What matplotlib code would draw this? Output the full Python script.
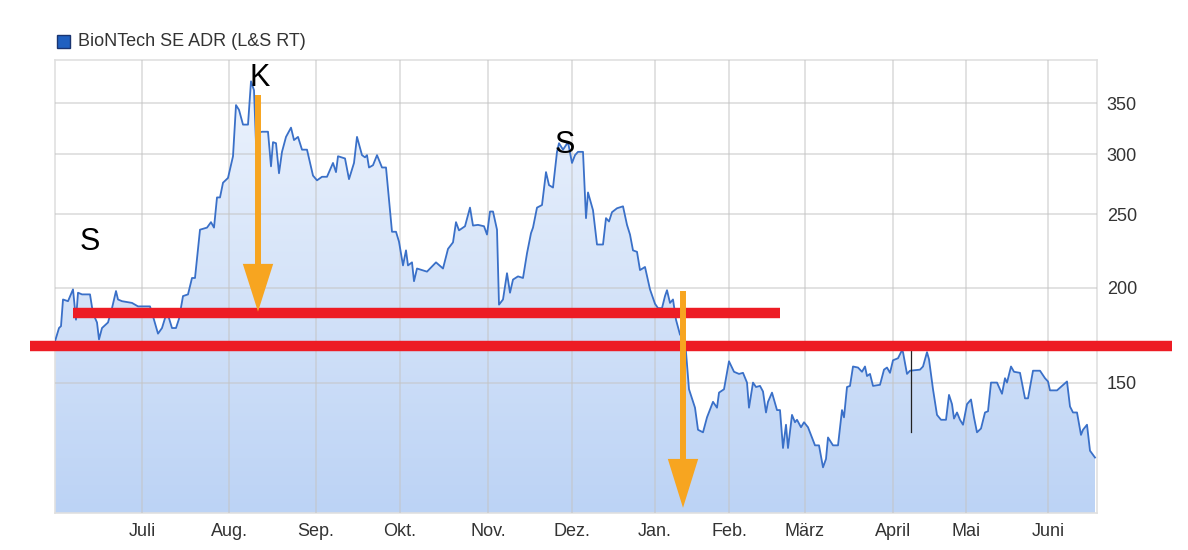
import matplotlib
matplotlib.use("Agg")
import numpy as np
import matplotlib.pyplot as plt
from matplotlib.ticker import FixedLocator, NullLocator, FixedFormatter
from matplotlib.colors import LinearSegmentedColormap

plt.rcParams["font.family"] = ["Liberation Sans", "DejaVu Sans"]

# ── data (x = trading day since start of June 2021, price in USD) ─────
days = [
    0, 1, 1.5, 2, 3.25, 4.5, 5.25, 5.75, 6.75, 8.75, 9.5, 10.5, 11, 11.75, 13.25,
    14.25, 15.25, 15.75, 16.75, 19.25, 20.75, 23.75, 24.75, 25.75, 26.75, 28,
    29.25, 30.25, 31, 32, 33.25, 34.25, 35, 36.25, 38, 39, 39.75, 40.5, 41.25,
    42, 43.25, 44.5, 45.25, 46, 47, 48.25, 49, 49.75, 50.25, 50.75, 51.75, 53.25,
    54, 54.5, 55.25, 56, 56.75, 57.75, 59, 59.75, 60.75, 61.75, 63, 64.5, 65.5,
    66.75, 68, 69.5, 70.25, 70.75, 72.5, 73.5, 74.75, 75.5, 76.75, 77.5, 78,
    78.5, 79.5, 80.5, 81.75, 82.75, 84.25, 85.25, 86, 87, 87.75, 88.25, 89.25,
    89.75, 90.5, 93, 95.25, 97, 98.25, 99.5, 100.25, 101, 102.5, 103.75, 104.5,
    105.75, 107.25, 108, 108.75, 109.5, 110.5, 111, 112, 113, 113.75, 114.5,
    115.75, 117, 118, 119, 119.5, 120.5, 121.75, 122.75, 123.5, 124.5, 125.5,
    126, 127, 128.25, 129.25, 130, 130.75, 132, 132.75, 133.25, 134.5, 135.5,
    137, 137.75, 138.5, 139.25, 140.5, 142, 143, 143.75, 144.5, 145.5, 146.25,
    147.5, 148.75, 150, 150.75, 151.75, 152.5, 153, 153.75, 154.5, 155.25,
    156.25, 157.5, 158.5, 160, 160.75, 162, 163, 164.5, 165.5, 166, 167.25,
    168.5, 169.75, 171, 172, 173, 173.5, 174.5, 175.25, 176.25, 177, 177.75,
    178.25, 179.25, 180.5, 181.25, 182, 182.75, 183.25, 184.25, 185, 185.5,
    186.5, 187.25, 188.25, 189.25, 190, 191, 192, 192.75, 193.25, 194.5, 195.75,
    196.75, 197.25, 198, 198.75, 199.5, 200.75, 201.75, 202.5, 203, 203.75,
    204.5, 206.25, 207.25, 208, 208.75, 209.5, 210.75, 211.75, 212, 213, 213.75,
    216.25, 217, 218, 218.5, 219.5, 220.5, 221.5, 222.75, 223.5, 224.25, 224.75,
    225.5, 226.25, 227, 228, 229, 229.75, 230.5, 231.5, 232.5, 233.25, 234,
    235.5, 236.75, 237.5, 238, 239, 239.75, 241.25, 242.5, 243.25, 244.5,
    246.25, 247.5, 248.25, 248.75, 250.5, 253, 253.75, 254.5, 255.5, 256.5, 257,
    258, 258.75, 260,
]
prices = [
    170, 177, 178, 193, 192, 199, 181.5, 197, 196, 196, 185, 180, 171, 177, 180,
    188, 198, 193, 192, 191, 189, 189, 181.5, 174, 177, 186,
    177, 177, 182, 195, 196, 206, 206, 238.5, 240, 244, 240, 263, 263,
    275, 279, 298, 348, 343, 328, 328, 374, 364, 310, 320, 321, 321,
    289, 311, 310, 283, 302, 316, 325, 313, 316, 304, 304, 281, 277,
    280, 280, 292, 284, 298, 296, 278, 292, 316, 299, 297, 299,
    288, 290, 299, 288, 288, 237, 237, 230, 214, 224, 214, 216,
    204, 212, 210, 216, 212, 225, 229.5, 244, 238, 241, 255, 241.5,
    242, 241, 235, 252, 252, 238.5, 190, 193, 209, 197, 205,
    207, 206, 222, 236, 240, 255, 257, 284, 273, 271, 302,
    310, 304, 311, 292, 299, 302, 302, 247, 267, 253, 228,
    228, 247, 244.5, 251.5, 254.5, 256, 242, 235, 224, 223, 211,
    213, 199, 190.5, 188, 188, 195, 198.5, 191, 193, 181.5,
    173.5, 171, 147, 139, 130, 129, 135, 141.5, 139, 145.5, 147,
    160, 155, 154, 154.5, 150, 139, 150, 148, 148.5, 146, 137,
    141.5, 145.5, 138, 138, 123, 132, 123, 136, 133, 134,
    131, 133, 131, 127, 124, 124, 116, 119, 127, 124, 124,
    138, 135, 148, 148.5, 157.5, 157, 155, 157.5, 153, 154,
    148.5, 149, 156, 157, 154.5, 160.5, 161.5, 165.5, 164.5, 154, 155.5,
    156, 157.5, 164.5, 161, 147, 136, 134, 134, 144.5, 140.5, 134.5,
    137, 134, 132, 140.5, 142.5, 135, 129, 130.5, 137, 137.5, 150,
    150, 145, 152, 150, 157.5, 155, 154.5, 143, 143, 155.5,
    155.5, 152, 150.5, 146.5, 146.5, 150.5, 139.5, 137, 137, 128, 130,
    132, 122, 119.5,
]

month_pos = [21.75, 43.5, 65.25, 86.25, 108.25, 129.25, 150, 168.5, 187.5, 209.5, 227.75, 248.25]
month_labels = ["Juli", "Aug.", "Sep.", "Okt.", "Nov.", "Dez.", "Jan.", "Feb.", "März", "April", "Mai", "Juni"]
y_ticks = [150, 200, 250, 300, 350]

# drawn-in markup (support/resistance lines, arrows, letters)
resist_long = 167.5
resist_short = 185
arrow_k = (50.75, 359, 215, 186)      # x, shaft top, head top, tip
arrow_break = (157, 198, 119, 102.6)
letters = [(8.75, 230, "S"), (51.25, 378, "K"), (127.5, 308.5, "S")]

X_MIN, X_MAX = 0, 260.5
Y_MIN, Y_MAX = 101, 399

# ── figure ───────────────────────────────────────────────────────────
fig = plt.figure(figsize=(11.88, 5.5), dpi=100)
ax = fig.add_axes([55 / 1188, 37 / 550, 1042 / 1188, 453 / 550])
ax.set_yscale("log")
ax.set_xlim(X_MIN, X_MAX)
ax.set_ylim(Y_MIN, Y_MAX)

# gradient area under the line
fill = ax.fill_between(days, prices, Y_MIN, color="none", lw=0)
cmap = LinearSegmentedColormap.from_list("bl", ["#bcd3f5", "#eef4fd"])
grad = np.linspace(0, 1, 256).reshape(-1, 1)
img = ax.imshow(grad, cmap=cmap, aspect="auto", origin="lower",
                extent=[0, 1, 0, 1], transform=ax.transAxes, zorder=1)
img.set_clip_path(fill.get_paths()[0], transform=ax.transData)
ax.plot(days, prices, color="#3a70c8", lw=1.3, zorder=3)

# grid
ax.yaxis.set_major_locator(FixedLocator(y_ticks))
ax.yaxis.set_minor_locator(NullLocator())
ax.yaxis.set_major_formatter(FixedFormatter([str(v) for v in y_ticks]))
ax.yaxis.tick_right()
ax.set_xticks(month_pos)
ax.set_xticklabels(month_labels)
ax.grid(True, color="#c4c4c4", alpha=0.5, lw=1.4, zorder=2)
ax.set_axisbelow(False)
ax.tick_params(length=0, pad=7, labelsize=13, colors="#333333")
for s in ax.spines.values():
    s.set_color("#e0e0e0")
    s.set_linewidth(1.2)

# red horizontal lines
ax.plot([-6.25, 279.25], [resist_long, resist_long], color="#ed1c24", lw=7.5,
        solid_capstyle="butt", clip_on=False, zorder=6)
ax.plot([4.5, 181.25], [resist_short, resist_short], color="#ed1c24", lw=7.5,
        solid_capstyle="butt", zorder=6)

# orange arrows
for x0, top, head, tip in [arrow_k, arrow_break]:
    ax.plot([x0, x0], [top, head], color="#f7a520", lw=4.3,
            solid_capstyle="butt", zorder=7)
    ax.fill([x0 - 3.8, x0 + 3.8, x0], [head, head, tip], color="#f7a520",
            lw=0, zorder=7)

# thin black marker line
ax.plot([214, 214], [166, 129], color="#222222", lw=0.9, zorder=4)

for lx, ly, t in letters:
    ax.text(lx, ly, t, fontsize=22, ha="center", va="center", color="black", zorder=8)

# legend
fig.patches.append(plt.Rectangle((57 / 1188, 1 - 48 / 550), 13 / 1188, 13 / 550,
                                 transform=fig.transFigure, facecolor="#2060c0",
                                 edgecolor="#1a3470", lw=1))
fig.text(78 / 1188, 1 - 42 / 550, "BioNTech SE ADR (L&S RT)", fontsize=13,
         va="center", ha="left", color="#333333")

fig.savefig("out.png", dpi=100)
